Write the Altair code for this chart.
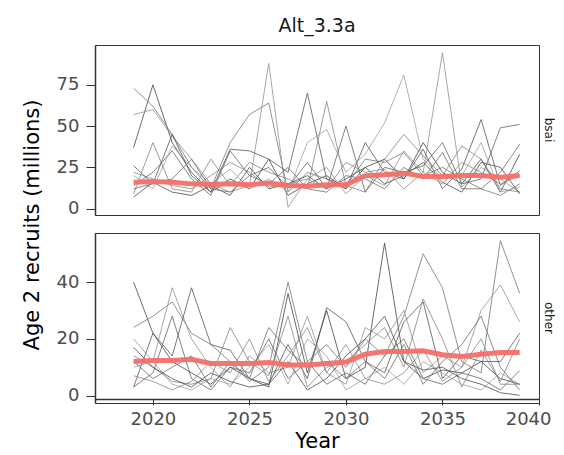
import altair as alt
import pandas as pd

years = list(range(2019, 2040))
scenario = "Alt_3.3a"
regions = ["bsai", "other"]

# bsai simulations (millions), 2019..2039
bsai_sims = [
    [37, 75, 40, 22, 10, 18, 12, 30, 8, 15, 20, 12, 25, 30, 18, 40, 22, 15, 30, 10, 33],
    [73, 62, 45, 25, 12, 40, 57, 64, 10, 22, 18, 14, 30, 28, 34, 20, 25, 18, 12, 8, 15],
    [57, 60, 44, 30, 15, 10, 14, 88, 0.8, 18, 25, 9, 20, 14, 35, 22, 94.5, 13, 25, 18, 10],
    [26, 15, 45, 20, 10, 36, 35, 30, 22, 70, 18, 12, 40, 22, 18, 36, 12, 24, 54, 14, 23],
    [9, 40, 12, 10, 30, 14, 28, 22, 18, 12, 65, 14, 10, 30, 45, 32, 20, 38, 30, 12, 10],
    [14, 22, 35, 18, 8, 35, 20, 25, 13, 28, 12, 50, 10, 25, 22, 26, 40, 15, 18, 49, 51],
    [20, 12, 38, 25, 15, 24, 12, 18, 10, 40, 48, 22, 33, 52, 81, 30, 18, 20, 40, 10, 13],
    [7, 16, 10, 8, 14, 8, 25, 12, 15, 20, 12, 18, 25, 15, 20, 28, 16, 10, 28, 25, 9],
    [22, 18, 14, 12, 20, 28, 22, 13, 15, 18, 12, 28, 22, 24, 12, 22, 15, 28, 22, 15, 20],
    [12, 15, 18, 30, 12, 10, 20, 15, 25, 12, 10, 20, 18, 12, 25, 18, 34, 12, 12, 22, 39],
]
bsai_median = [16, 16.5, 16, 15, 14.6, 15, 14.5, 15.5, 14, 13.5, 14.5, 14.5, 20, 20.5,
               21.5, 19.5, 19.5, 20, 20, 19, 20]

# other simulations (millions), 2019..2039
other_sims = [
    [40, 22, 12, 8, 4, 10, 6, 3, 36, 8, 30, 6, 10, 53.8, 12, 6, 9, 8, 12, 6, 4],
    [24, 28, 33, 22, 18, 12, 5, 10, 40, 12, 18, 10, 20, 14, 28, 50, 38, 12, 8, 54.6, 36],
    [20, 12, 38, 20, 10, 3, 14, 8, 10, 28, 8, 4, 24, 20, 30, 8, 14, 10, 30, 39, 26],
    [3, 22, 14, 38, 18, 16, 6, 4, 18, 6, 31, 26, 12, 8, 26, 33, 6, 14, 12, 12, 22],
    [14, 10, 5, 4, 6, 24, 12, 7, 28, 3, 10, 12, 18, 24, 10, 34, 20, 3, 16, 5, 20],
    [3, 8, 28, 6, 2, 10, 8, 20, 6, 12, 4, 8, 4, 14, 20, 6, 4, 8, 6, 2, 8.8],
    [10, 12, 4, 2, 6, 4, 10, 18, 4, 20, 14, 2, 6, 10, 4, 12, 8, 4, 2, 8, 4],
    [17, 10, 6, 3, 8, 5, 3, 4, 12, 2, 6, 14, 20, 28, 12, 9, 10, 6, 4, 1, 0.1],
    [7, 5, 2, 5, 12, 8, 20, 5, 14, 24, 8, 18, 6, 4, 8, 16, 5, 10, 20, 4, 4],
    [12, 6, 10, 14, 3, 12, 6, 24, 16, 10, 12, 6, 12, 6, 18, 4, 12, 18, 28, 10, 2],
]
other_median = [12, 12.4, 12.4, 12.8, 11.3, 11.3, 11.3, 11.7, 10.8, 10.8, 11.3, 11.8,
                14.6, 15.5, 15.5, 15.8, 14.4, 13.8, 14.6, 15.2, 15.2]

x_ticks = [2020, 2025, 2030, 2035, 2040]
greys = ["#3d3d3d", "#707070", "#8c8c8c", "#4f4f4f", "#7d7d7d",
         "#5c5c5c", "#9a9a9a", "#454545", "#838383", "#666666"]


def build(region, sims, med):
    rows = []
    for i, s in enumerate(sims):
        for yr, v in zip(years, s):
            rows.append({"Year": yr, "value": v, "sim": f"s{i + 1:02d}",
                         "kind": "sim", "region": region, "scenario": scenario})
    for yr, v in zip(years, med):
        rows.append({"Year": yr, "value": v, "sim": "median",
                     "kind": "median", "region": region, "scenario": scenario})
    return rows


df = pd.DataFrame(build(regions[0], bsai_sims, bsai_median) +
                  build(regions[1], other_sims, other_median))

x_enc = alt.X("Year:Q",
              scale=alt.Scale(domain=[2017, 2040], nice=False, zero=False),
              axis=alt.Axis(values=x_ticks, format="d", title="Year", offset=-7,
                            labelFlush=True, labelFlushOffset=12,
                            tickSize=6, labelPadding=5, titlePadding=2))
y_enc = alt.Y("value:Q",
              scale=alt.Scale(nice=False, zero=False, padding=7.7),
              axis=alt.Axis(title=None, tickSize=9, labelPadding=7,
                            values={"expr": "domain('child_y')[1] > 70 ? [0, 25, 50, 75] : [0, 20, 40]"}))

grey = alt.Chart().mark_line(strokeWidth=0.9, opacity=0.85).encode(
    x=x_enc, y=y_enc,
    color=alt.Color("sim:N", scale=alt.Scale(range=greys), legend=None),
).transform_filter(alt.datum.kind == "sim")

red = alt.Chart().mark_line(strokeWidth=5, color="#F46F69", opacity=0.95).encode(
    x=x_enc, y=y_enc,
).transform_filter(alt.datum.kind == "median")

y_title = "Age 2 recruits (millions)\u00a0\u00a0\u00a0"

chart = alt.layer(grey, red, data=df).properties(width=444, height=170).facet(
    row=alt.Row("region:N", sort=regions,
                header=alt.Header(title=y_title, titleOrient="left",
                                  titleFontSize=21, titleFontWeight="normal",
                                  titleColor="black", titlePadding=2.5,
                                  labelOrient="right", labelAngle=90,
                                  labelFontSize=12, labelColor="#1a1a1a",
                                  labelPadding=2)),
    column=alt.Column("scenario:N",
                      header=alt.Header(title=None, labelFontSize=19,
                                        labelColor="#1a1a1a", labelPadding=8)),
    spacing=13,
).resolve_scale(y="independent").properties(
    padding={"left": 13, "top": 9, "right": 0, "bottom": 0}
).configure_view(stroke="#333333", strokeWidth=1).configure_axis(
    grid=False, domainColor="#333333", tickColor="#333333", domainWidth=1.5,
    labelColor="#4d4d4d", labelFont="DejaVu Sans", labelFontSize=18,
    titleFont="DejaVu Sans", titleFontSize=21, titleFontWeight="normal",
    titleColor="black"
).configure_header(labelFont="DejaVu Sans", titleFont="DejaVu Sans")

chart.save("out.html", embed_options={"renderer": "svg", "actions": False})
